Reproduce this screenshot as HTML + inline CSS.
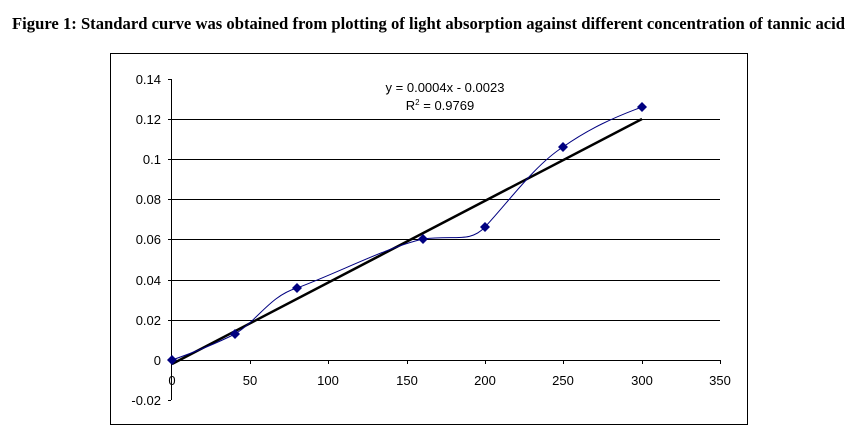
<!DOCTYPE html>
<html><head><style>body{margin:0;background:#fff}</style></head><body>
<svg width="853" height="436" xmlns="http://www.w3.org/2000/svg" style="display:block">
<text x="12" y="29" textLength="833" lengthAdjust="spacingAndGlyphs" font-family="Liberation Serif, serif" font-weight="bold" font-size="16.5">Figure 1: Standard curve was obtained from plotting of light absorption against different concentration of tannic acid</text>
<rect x="110.5" y="53.5" width="637" height="371" fill="none" stroke="#000" stroke-width="1"/>
<g stroke="#000" stroke-width="1">
<line x1="172" y1="119.5" x2="720" y2="119.5"/>
<line x1="172" y1="159.5" x2="720" y2="159.5"/>
<line x1="172" y1="199.5" x2="720" y2="199.5"/>
<line x1="172" y1="239.5" x2="720" y2="239.5"/>
<line x1="172" y1="280.5" x2="720" y2="280.5"/>
<line x1="172" y1="320.5" x2="720" y2="320.5"/>
<line x1="171.5" y1="79" x2="171.5" y2="400"/>
<line x1="171.5" y1="360.5" x2="720" y2="360.5"/>
<line x1="168" y1="79.5" x2="171" y2="79.5"/>
<line x1="168" y1="119.5" x2="171" y2="119.5"/>
<line x1="168" y1="159.5" x2="171" y2="159.5"/>
<line x1="168" y1="199.5" x2="171" y2="199.5"/>
<line x1="168" y1="239.5" x2="171" y2="239.5"/>
<line x1="168" y1="280.5" x2="171" y2="280.5"/>
<line x1="168" y1="320.5" x2="171" y2="320.5"/>
<line x1="168" y1="360.5" x2="171" y2="360.5"/>
<line x1="168" y1="400.5" x2="171" y2="400.5"/>
<line x1="250.5" y1="360" x2="250.5" y2="364"/>
<line x1="328.5" y1="360" x2="328.5" y2="364"/>
<line x1="407.5" y1="360" x2="407.5" y2="364"/>
<line x1="485.5" y1="360" x2="485.5" y2="364"/>
<line x1="563.5" y1="360" x2="563.5" y2="364"/>
<line x1="642.5" y1="360" x2="642.5" y2="364"/>
<line x1="720.5" y1="360" x2="720.5" y2="364"/>
</g>
<g font-family="Liberation Sans, sans-serif" font-size="13" fill="#000" text-anchor="end">
<text x="161" y="84">0.14</text><text x="161" y="124">0.12</text><text x="161" y="164">0.1</text>
<text x="161" y="204">0.08</text><text x="161" y="244">0.06</text><text x="161" y="285">0.04</text>
<text x="161" y="325">0.02</text><text x="161" y="365">0</text><text x="161" y="405">-0.02</text>
</g>
<g font-family="Liberation Sans, sans-serif" font-size="13" fill="#000" text-anchor="middle">
<text x="172" y="385">0</text><text x="250" y="385">50</text><text x="328" y="385">100</text>
<text x="407" y="385">150</text><text x="485" y="385">200</text><text x="563" y="385">250</text>
<text x="642" y="385">300</text><text x="720" y="385">350</text>
<text x="445" y="92">y = 0.0004x - 0.0023</text>
<text x="440" y="110">R<tspan font-size="8" dy="-5">2</tspan><tspan dy="5"> = 0.9769</tspan></text>
</g>
<line x1="172" y1="364" x2="642" y2="119" stroke="#000" stroke-width="2.5"/>
<path d="M172,360 C195,352 215,344 235,334 C258,320 270,296 297,288 C340,272 385,248 423,239 C455,235 470,243 485,227 C510,200 535,165 563,147 C590,128 615,117 642,107" fill="none" stroke="#000080" stroke-width="1"/>
<g fill="#000080">
<path d="M172,355 l5,5 l-5,5 l-5,-5z"/>
<path d="M235,329 l5,5 l-5,5 l-5,-5z"/>
<path d="M297,283 l5,5 l-5,5 l-5,-5z"/>
<path d="M423,234 l5,5 l-5,5 l-5,-5z"/>
<path d="M485,222 l5,5 l-5,5 l-5,-5z"/>
<path d="M563,142 l5,5 l-5,5 l-5,-5z"/>
<path d="M642,102 l5,5 l-5,5 l-5,-5z"/>
</g>
</svg>
</body></html>
